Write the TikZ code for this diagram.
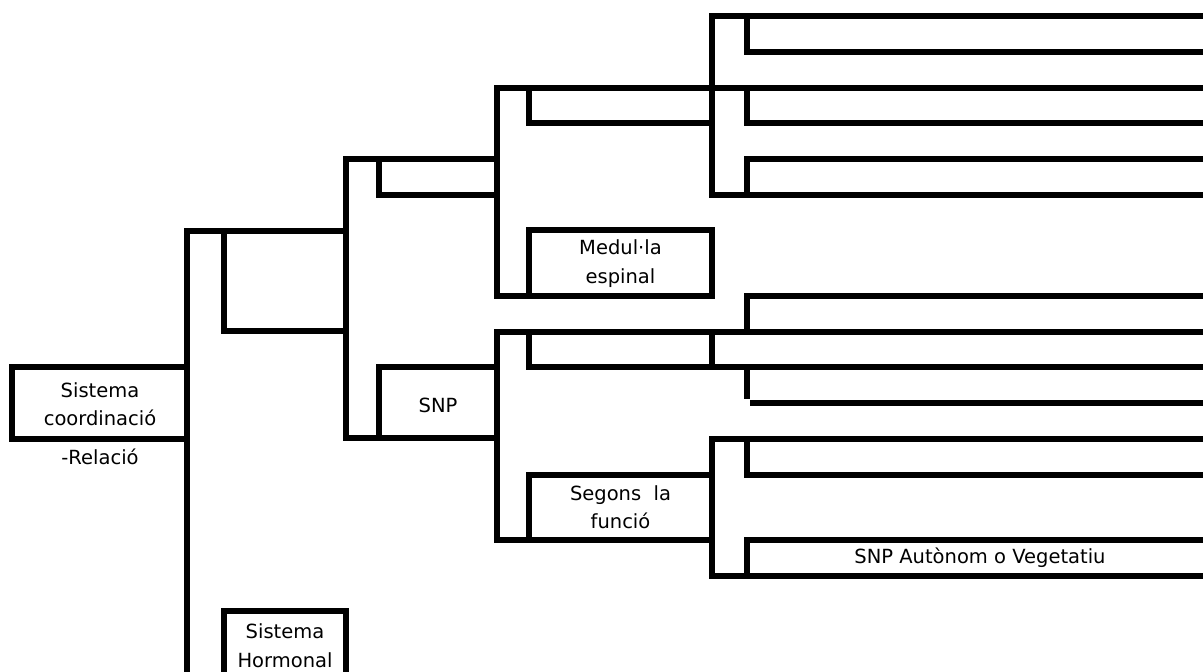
\documentclass[tikz,border=0pt]{standalone}
\usepackage{fontspec}
\setmainfont{DejaVu Sans}
\begin{document}
\begin{tikzpicture}[x=1pt,y=-1pt,
  ln/.style={line width=6pt,line cap=rect,line join=miter},
  lnb/.style={line width=6pt,line cap=butt},
  lbl/.style={inner sep=0pt,align=center,font=\fontsize{19.5}{28.5}\selectfont}]
\useasboundingbox (0,0) rectangle (1203,672);
% ---------- left group ----------
\draw[ln] (187,366.5) -- (12,366.5) -- (12,438.5) -- (187,438.5);
\draw[ln] (187,231) -- (187,690);
\draw[ln] (187,231) -- (346,231);
\draw[ln] (224,231) -- (224,331) -- (346,331);
\draw[ln] (346,159) -- (346,438);
\draw[ln] (346,159) -- (497,159);
\draw[ln] (379,159) -- (379,194.5) -- (497,194.5);
\draw[ln] (379,438) -- (379,366.5) -- (497,366.5);
\draw[ln] (346,438) -- (497,438);
\draw[ln] (224,690) -- (224,611) -- (346,611) -- (346,690);
% ---------- upper group ----------
\draw[ln] (497,88) -- (497,296);
\draw[ln] (497,88) -- (1210,88);
\draw[ln] (529,88) -- (529,123) -- (712,123);
\draw[ln] (529,296) -- (529,230) -- (712,230) -- (712,296);
\draw[ln] (497,296) -- (712,296);
\draw[ln] (712,16) -- (712,194.5);
\draw[ln] (712,16) -- (1210,16);
\draw[ln] (747,16) -- (747,52) -- (1210,52);
\draw[ln] (747,88) -- (747,123) -- (1210,123);
\draw[ln] (1210,159) -- (747,159) -- (747,194.5);
\draw[ln] (712,194.5) -- (1210,194.5);
% ---------- lower group ----------
\draw[ln] (497,332) -- (497,540);
\draw[ln] (497,332) -- (1210,332);
\draw[ln] (529,332) -- (529,367) -- (1210,367);
\draw[ln] (712,332) -- (712,367);
\draw[ln] (1210,296) -- (747,296) -- (747,332);
\draw[lnb] (747,367) -- (747,399);
\draw[lnb] (750,403) -- (1210,403);
\draw[ln] (529,540) -- (529,474.5) -- (712,474.5);
\draw[ln] (497,540) -- (712,540);
\draw[ln] (712,439) -- (712,576);
\draw[ln] (712,439) -- (1210,439);
\draw[ln] (747,439) -- (747,474.5) -- (1210,474.5);
\draw[ln] (747,576) -- (747,540) -- (1210,540);
\draw[ln] (712,576) -- (1210,576);
% ---------- labels ----------
\node[lbl] (coord) at (100,404) {Sistema\\coordinació};
\node[lbl] (rel) at (100,457) {-Relació};
\node[lbl] (med) at (620.5,263.5) {Medul·la\\espinal};
\node[lbl] (snp) at (438,405) {SNP};
\node[lbl] (seg) at (620.5,507) {Segons~~la\\funció};
\node[lbl] (auto) at (980,558) {SNP Autònom o Vegetatiu};
\node[lbl] (horm) at (285,645.5) {Sistema\\Hormonal};
\end{tikzpicture}
\end{document}
